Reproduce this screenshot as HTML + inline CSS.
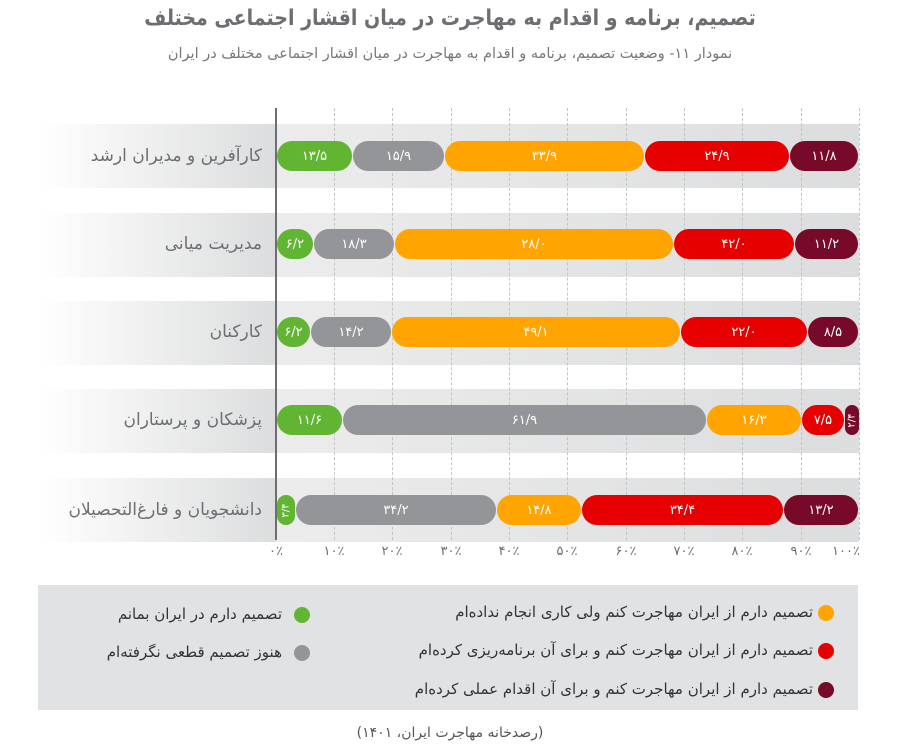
<!DOCTYPE html>
<html><head><meta charset="utf-8"><style>
body{margin:0;width:916px;height:752px;background:#fff;position:relative;overflow:hidden;font-family:"DejaVu Sans","Liberation Sans",sans-serif}
.a{position:absolute}
.t{white-space:nowrap;direction:rtl}
.band{position:absolute;left:40px;width:819px;height:64px;background:linear-gradient(90deg,#fff 0px,#dcddde 236px,#ececec 237px,#dcddde 819px)}
.lab{position:absolute;right:654px;font-size:17px;color:#6d6e71;white-space:nowrap;direction:rtl;transform:translateY(-50%)}
.seg{position:absolute;height:30px;border-radius:15px;color:#fff;font-size:13px;display:flex;align-items:center;justify-content:center;box-sizing:border-box}
.g{background:#62b533}.y{background:#939598}.o{background:#ffa400}.r{background:#e60000}.m{background:#770a28}
.grid{position:absolute;top:108px;height:432px;border-left:1px dashed #c4c4c4;width:0}
.tick{position:absolute;top:544px;font-size:13px;color:#6d6e71;transform:translateX(-50%);white-space:nowrap}
.dot{position:absolute;width:16px;height:16px;border-radius:50%}
.leg{position:absolute;font-size:15px;color:#333;white-space:nowrap;direction:rtl;transform:translateY(-50%)}
</style></head><body>
<div class="a t" style="left:0;width:900px;top:7px;text-align:center;font-size:19px;font-weight:bold;color:#6d6e71;transform:scaleY(1.15)">تصمیم، برنامه و اقدام به مهاجرت در میان اقشار اجتماعی مختلف</div>
<div class="a t" style="left:0;width:900px;top:46px;text-align:center;font-size:14.5px;color:#777">نمودار ۱۱- وضعیت تصمیم، برنامه و اقدام به مهاجرت در میان اقشار اجتماعی مختلف در ایران</div>

<div class="band" style="top:124px"></div>
<div class="band" style="top:213px"></div>
<div class="band" style="top:301px"></div>
<div class="band" style="top:389px"></div>
<div class="band" style="top:478px"></div>

<div class="grid" style="left:334px"></div><div class="grid" style="left:392px"></div><div class="grid" style="left:451px"></div><div class="grid" style="left:509px"></div><div class="grid" style="left:567px"></div><div class="grid" style="left:626px"></div><div class="grid" style="left:684px"></div><div class="grid" style="left:742px"></div><div class="grid" style="left:801px"></div><div class="grid" style="left:859px"></div>
<div class="a" style="left:275px;top:108px;width:2px;height:432px;background:#6d6e71"></div>

<div class="lab" style="top:156px">کارآفرین و مدیران ارشد</div>
<div class="lab" style="top:244px">مدیریت میانی</div>
<div class="lab" style="top:332px">کارکنان</div>
<div class="lab" style="top:420px">پزشکان و پرستاران</div>
<div class="lab" style="top:510px">دانشجویان و فارغ‌التحصیلان</div>

<div class="seg g" style="top:141px;left:277px;width:75px">۱۳/۵</div>
<div class="seg y" style="top:141px;left:353px;width:91px">۱۵/۹</div>
<div class="seg o" style="top:141px;left:445px;width:199px">۳۳/۹</div>
<div class="seg r" style="top:141px;left:645px;width:144px">۲۴/۹</div>
<div class="seg m" style="top:141px;left:790px;width:68px">۱۱/۸</div>

<div class="seg g" style="top:229px;left:277px;width:36px">۶/۲</div>
<div class="seg y" style="top:229px;left:314px;width:80px">۱۸/۳</div>
<div class="seg o" style="top:229px;left:395px;width:278px">۲۸/۰</div>
<div class="seg r" style="top:229px;left:674px;width:120px">۴۲/۰</div>
<div class="seg m" style="top:229px;left:795px;width:63px">۱۱/۲</div>

<div class="seg g" style="top:317px;left:277px;width:33px">۶/۲</div>
<div class="seg y" style="top:317px;left:311px;width:80px">۱۴/۲</div>
<div class="seg o" style="top:317px;left:392px;width:288px">۴۹/۱</div>
<div class="seg r" style="top:317px;left:681px;width:126px">۲۲/۰</div>
<div class="seg m" style="top:317px;left:808px;width:50px">۸/۵</div>

<div class="seg g" style="top:405px;left:277px;width:65px">۱۱/۶</div>
<div class="seg y" style="top:405px;left:343px;width:363px">۶۱/۹</div>
<div class="seg o" style="top:405px;left:707px;width:94px">۱۶/۳</div>
<div class="seg r" style="top:405px;left:802px;width:42px">۷/۵</div>
<div class="seg m" style="top:405px;left:845px;width:14px;border-radius:7px"><span style="transform:rotate(-90deg);font-size:10px">۲/۴</span></div>

<div class="seg g" style="top:495px;left:277px;width:18px;border-radius:9px"><span style="transform:rotate(-90deg);font-size:10px">۳/۴</span></div>
<div class="seg y" style="top:495px;left:296px;width:200px">۳۴/۲</div>
<div class="seg o" style="top:495px;left:497px;width:84px">۱۴/۸</div>
<div class="seg r" style="top:495px;left:582px;width:201px">۳۴/۴</div>
<div class="seg m" style="top:495px;left:784px;width:74px">۱۳/۲</div>

<div class="tick" style="left:276px">۰٪</div><div class="tick" style="left:334px">۱۰٪</div><div class="tick" style="left:392px">۲۰٪</div><div class="tick" style="left:451px">۳۰٪</div><div class="tick" style="left:509px">۴۰٪</div><div class="tick" style="left:567px">۵۰٪</div><div class="tick" style="left:626px">۶۰٪</div><div class="tick" style="left:684px">۷۰٪</div><div class="tick" style="left:742px">۸۰٪</div><div class="tick" style="left:801px">۹۰٪</div><div class="tick" style="left:846px">۱۰۰٪</div>

<div class="a" style="left:38px;top:585px;width:820px;height:125px;background:#e1e2e3"></div>
<div class="dot" style="left:818px;top:605px;background:#ffa400"></div>
<div class="leg" style="right:103px;top:612px">تصمیم دارم از  ایران مهاجرت کنم ولی کاری انجام نداده‌ام</div>
<div class="dot" style="left:818px;top:643px;background:#e60000"></div>
<div class="leg" style="right:103px;top:650px">تصمیم دارم از  ایران مهاجرت کنم و برای آن برنامه‌ریزی کرده‌ام</div>
<div class="dot" style="left:818px;top:682px;background:#770a28"></div>
<div class="leg" style="right:103px;top:689px">تصمیم دارم از ایران مهاجرت کنم و برای آن اقدام عملی کرده‌ام</div>
<div class="dot" style="left:294px;top:607px;background:#62b533"></div>
<div class="leg" style="right:634px;top:614px">تصمیم دارم در ایران بمانم</div>
<div class="dot" style="left:294px;top:645px;background:#939598"></div>
<div class="leg" style="right:634px;top:652px">هنوز تصمیم قطعی نگرفته‌ام</div>

<div class="a t" style="left:0;width:900px;top:725px;text-align:center;font-size:14px;color:#555">(رصدخانه مهاجرت ایران، ۱۴۰۱)</div>
</body></html>
